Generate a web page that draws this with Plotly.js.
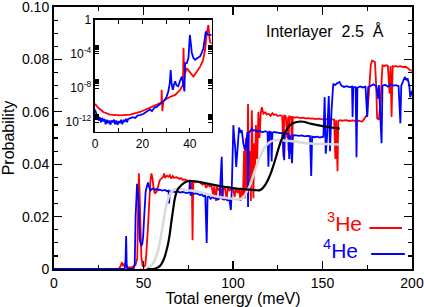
<!DOCTYPE html>
<html>
<head>
<meta charset="utf-8">
<script src="https://cdn.plot.ly/plotly-3.0.1.min.js"></script>
<style>html,body{margin:0;padding:0;background:#fff;}#chart{width:424px;height:307px;}</style>
</head>
<body>
<div id="chart"></div>
<script>
// ---------- main panel data (energy in meV, probability) ----------
const he3X = [0,36,37,38,38.6,39,40,42,44,45.5,46.5,47,47.4,47.8,48.3,48.8,49.5,50.3,51,51.6,52.5,53.2,53.8,54.4,55,55.6,56.3,57.3,58.2,59.1,60,61,61.5,62,63,64,64.7,65.5,66.3,67,68.5,70,71,72,73,74,75,76,77,77.4,77.8,79,80,81.5,83,84,85,86,87,88,89,89.5,90.5,91,92,93,94,94.5,95.5,96.5,97,98,99,100,101,101.5,102.5,103.5,104.2,104.8,105.6,106.2,106.6,107.2,107.8,108.4,108.8,109.5,110,110.5,111,111.4,111.8,112.3,112.8,113.5,114.2,114.8,115.5,116.1,117,118,118.9,120,121,122,123,124,125,126.3,127.5,128.2,128.6,129.5,130.3,130.8,131,131.4,132.5,133,133.4,134.5,136,137.5,139,140.5,142,143.1,144.5,146,148,150,152,154,155.5,156.5,157.2,157.6,158.4,158.8,159.6,161,163,165,167,169,170.5,172,173.5,175,176,177,177.7,178.5,179.3,180,180.5,181.5,182.5,183.5,184.5,185.5,186.5,187.5,188,188.6,189.2,190,191,192,193.5,195,196.5,198,199,200];
const he3Y = [0,0,0.0008,0.0025,0.001,0.002,0.001,0.0005,0.0008,0.0015,0.004,0.02,0.0365,0.03,0.016,0.0047,0.0012,0.0009,0.0015,0.006,0.016,0.026,0.033,0.0365,0.035,0.031,0.0288,0.0295,0.032,0.0339,0.0345,0.0352,0.0365,0.0348,0.0356,0.0352,0.0358,0.0345,0.0355,0.0348,0.035,0.0344,0.0347,0.034,0.0342,0.0339,0.0336,0.0338,0.0334,0.011,0.0334,0.0331,0.0333,0.033,0.0322,0.0327,0.031,0.0322,0.0315,0.0318,0.028,0.0316,0.026,0.0314,0.03,0.0312,0.0265,0.0305,0.031,0.0262,0.0308,0.03,0.0307,0.0305,0.0275,0.031,0.029,0.0305,0.026,0.0305,0.028,0.045,0.027,0.05,0.03,0.063,0.033,0.045,0.026,0.0606,0.035,0.027,0.048,0.038,0.055,0.042,0.06,0.05,0.0595,0.0618,0.0593,0.0598,0.059,0.0592,0.0585,0.0595,0.0588,0.059,0.0584,0.0587,0.0583,0.0428,0.0585,0.0583,0.05,0.058,0.045,0.0582,0.058,0.0413,0.058,0.0578,0.058,0.0576,0.0578,0.0575,0.0576,0.0574,0.0575,0.0572,0.0574,0.0571,0.0572,0.057,0.0571,0.057,0.042,0.0568,0.0373,0.0565,0.0568,0.0566,0.0568,0.0565,0.0567,0.0564,0.0566,0.0562,0.0575,0.059,0.068,0.078,0.0796,0.0792,0.079,0.07,0.0575,0.057,0.065,0.0777,0.0775,0.0778,0.0776,0.067,0.0775,0.058,0.0774,0.0773,0.0775,0.0772,0.0774,0.0771,0.0772,0.0765,0.0758,0.0757];

const he4X = [0,39.5,40,40.3,40.6,41,44.5,45.1,45.6,46,46.4,46.8,47.2,47.9,48.4,48.8,49.3,49.8,50.3,50.7,51.2,51.6,52.1,52.5,53,53.9,54.6,55.4,56.5,57.5,58.5,59.1,60.5,62,63,64,64.3,64.7,66,67.5,69,70.5,72,74,75.5,75.9,76.3,76.8,78,79.5,81.5,82.5,83.5,84.5,85.3,85.8,86.5,87.5,88.5,89.5,90.5,91.5,92.5,93.7,94.2,95,96,97,98,98.8,99.3,99.8,100.2,100.7,101.2,101.8,102.5,103.4,104.2,104.9,105.8,106.7,107.5,108.1,108.4,108.8,109.5,110.5,111.5,112.5,113.5,115,116.5,118,119.3,119.8,120.3,121.2,121.6,122,123,124.5,126.3,127.5,128.6,129,130,131,131.4,131.8,133,133.4,134.5,135.7,137,138.5,140,141.5,143,143.7,144.2,145.5,147,148.5,149.5,150.5,151.2,151.8,152.5,153.5,154.2,155,156,157,158,159.5,160.5,162,163.5,165,166.5,166.8,167.2,168.5,169,169.5,171,172.5,174,175,175.5,177,178.5,180,181,181.5,183,183.5,185,186.5,188,189.5,191,192.5,193.5,194,195,196,197,197.5,198.5,199,200];
const he4Y = [0,0,0.004,0.0126,0.002,0,0,0.002,0.02,0.03,0.0325,0.03,0.026,0.011,0.0092,0.0088,0.0095,0.0123,0.019,0.025,0.0295,0.0307,0.032,0.033,0.0315,0.030,0.0305,0.0307,0.0302,0.0306,0.0301,0.0303,0.0299,0.0302,0.0297,0.0299,0.025,0.0296,0.0297,0.0294,0.0296,0.0292,0.0294,0.029,0.0292,0.0336,0.028,0.029,0.0287,0.0289,0.0282,0.0285,0.0278,0.028,0.0099,0.0275,0.0278,0.0268,0.0275,0.027,0.0272,0.0265,0.027,0.0428,0.027,0.0265,0.0268,0.0262,0.0266,0.0225,0.03,0.045,0.0549,0.05,0.0466,0.039,0.045,0.054,0.052,0.053,0.0479,0.0453,0.049,0.0523,0.0237,0.052,0.0525,0.0536,0.0528,0.053,0.0525,0.0527,0.0522,0.0526,0.0522,0.039,0.0524,0.0522,0.041,0.052,0.0523,0.052,0.0519,0.052,0.0415,0.0518,0.0516,0.0515,0.042,0.0512,0.0404,0.051,0.0511,0.051,0.0508,0.051,0.0506,0.0508,0.0507,0.0355,0.0505,0.0503,0.0505,0.0502,0.0504,0.0505,0.0656,0.044,0.05,0.066,0.045,0.06,0.0707,0.0702,0.0708,0.0714,0.07,0.0695,0.0698,0.0694,0.0696,0.058,0.0695,0.0694,0.0427,0.0692,0.0697,0.0693,0.0696,0.058,0.0694,0.07,0.0705,0.0698,0.065,0.0702,0.048,0.07,0.0703,0.0696,0.0705,0.07,0.0702,0.0698,0.0556,0.07,0.0715,0.0733,0.072,0.0728,0.07,0.0656,0.068];

const blackX = [52,55.4,57,59.1,60.5,61.9,63,63.8,64.8,65.7,66.6,67.5,68.4,69.4,70.8,72.2,73.5,75,77,78.7,81.5,85,90,95,98.3,102,105.5,109.5,112.5,115,116.5,117.9,119.3,120.7,122.1,123.5,124.9,126.3,127.7,129.1,130.5,131.9,133.8,135.7,137.5,139.4,143.1,148,153,159.6];
const blackY = [0,0,0.0003,0.0011,0.0025,0.0047,0.0075,0.0098,0.014,0.0187,0.023,0.0269,0.0292,0.0307,0.0318,0.0326,0.0332,0.0335,0.0336,0.0335,0.0332,0.0327,0.032,0.0314,0.0311,0.0307,0.0305,0.0303,0.0301,0.0301,0.0308,0.032,0.0337,0.0358,0.0385,0.0415,0.0448,0.0479,0.0503,0.0523,0.0538,0.0549,0.0557,0.0561,0.0563,0.0562,0.0555,0.0548,0.0542,0.0536];

const grayX = [48,51.6,53.5,55.4,56.8,58.2,59.1,60,61,61.9,62.8,63.8,64.7,65.7,67,68.5,71,74,78,81.5,86,90,95,98.3,101,103.9,105.5,106.7,108,109.5,110.9,112.3,113.6,115,116.5,117.9,119.3,120.7,122.5,124.5,128,131.9,137,143.1,150,159.6];
const grayY = [0,0,0.001,0.0022,0.0045,0.0072,0.0102,0.0136,0.0175,0.0212,0.0245,0.0269,0.0285,0.0295,0.0302,0.0305,0.0305,0.0301,0.0298,0.0294,0.0285,0.0278,0.0272,0.0269,0.0267,0.0266,0.0272,0.0282,0.03,0.032,0.0348,0.0377,0.0403,0.0428,0.0449,0.0466,0.0477,0.0485,0.049,0.0492,0.0491,0.0489,0.0484,0.0479,0.0477,0.0475];

// ---------- inset data (log scale) ----------
const in3X = [0,1.4,3.5,6.3,10.5,14.8,19,23.2,27.4,28,28.1,28.4,28.8,29.5,31.6,33.8,35.9,36.6,37.1,37.3,37.6,38.7,40,41.5,42.9,44.3,45.5,46.4,47.1,47.8,48.2,48.5,49.2];
const in3Y = [1.4e-10,5e-11,1.6e-11,8e-12,6.3e-12,8e-12,1.6e-11,5e-11,1.8e-10,2e-10,6.3e-9,2e-11,2.5e-10,4.4e-10,9e-10,1.6e-9,6.3e-9,1.6e-8,2.5e-8,5e-4,3e-7,2e-6,8e-7,2.2e-7,8e-7,3.2e-6,1.6e-5,2.8e-4,2.5e-2,0.23,1e-2,2.5e-3,1.6e-3];

const in4X = [0,1,1.5,2,2.5,3,3.5,4,4.5,5,5.5,6,6.5,7,7.5,8,8.5,9,9.5,10,10.5,11,11.5,12,12.5,13,13.5,14,14.8,16,17,18,19,20.5,22,23.2,24,25,26,27.4,28.5,29.5,30.2,30.9,31.5,31.9,32.3,32.8,33.3,33.8,34.4,35.1,35.8,36.6,37.2,37.7,38,38.7,39.4,40,40.5,40.8,41.5,42.2,43.2,44.3,45,45.7,46.7,47.2,47.6,48.5,49.2];
const in4Y = [3.2e-11,5e-12,1.6e-12,4e-12,1e-12,3.2e-12,1.3e-12,2.5e-12,6e-13,2e-12,8e-13,1.6e-12,5e-13,1.6e-12,1e-12,2e-12,6e-13,1.6e-12,5e-13,1.3e-12,8e-13,2e-12,6e-13,1.6e-12,1.3e-12,2.5e-12,1e-12,2.5e-12,3.2e-12,4e-12,3.2e-12,6.3e-12,7e-12,1e-11,2e-11,3.2e-11,2e-11,5e-11,6.3e-11,1.3e-10,2.5e-10,4.4e-10,1e-9,4e-9,3.2e-8,1.3e-6,3.2e-8,6.3e-9,2.5e-8,6.3e-8,2e-8,1.6e-8,6.3e-8,2.2e-7,3.2e-8,4e-9,8e-6,8e-6,3.2e-5,1.6e-2,1e-3,1.3e-4,3.2e-5,2e-5,3.2e-5,5e-5,1.3e-4,4.5e-4,4e-2,2.5e-2,1.6e-2,1.6e-2,1.6e-2];

const xTicks = [0,50,100,150,200];
const yTickVals = [0,0.02,0.04,0.06,0.08,0.1];
const yTickText = ["0","0.02","0.04","0.06","0.08","0.10"];
const insetXTicks = [0,20,40];
const insetYTickVals = [1,1e-4,1e-8,1e-12];
const insetYTickText = ["1","10<sup>-4</sup>","10<sup>-8</sup>","10<sup>-12</sup>"];
const insetMinorVals = [2e-4,3e-4,4e-4,5e-4,6e-4,7e-4,8e-4,9e-4,2e-8,3e-8,4e-8,5e-8,6e-8,7e-8,8e-8,9e-8,2e-12,3e-12,4e-12,5e-12,6e-12,7e-12,8e-12,9e-12];

const FONT = "Liberation Sans, Arial, Helvetica, sans-serif";

const traces = [
  {x: he3X, y: he3Y, type:'scatter', mode:'lines', line:{color:'#ff0000', width:1.8}, xaxis:'x', yaxis:'y', hoverinfo:'skip'},
  {x: he4X, y: he4Y, type:'scatter', mode:'lines', line:{color:'#0000ff', width:1.8}, xaxis:'x', yaxis:'y', hoverinfo:'skip'},
  {x: grayX, y: grayY, type:'scatter', mode:'lines', line:{color:'#d9d9d9', width:2.5, shape:'spline'}, xaxis:'x', yaxis:'y', hoverinfo:'skip'},
  {x: blackX, y: blackY, type:'scatter', mode:'lines', line:{color:'#000000', width:2.2, shape:'spline'}, xaxis:'x', yaxis:'y', hoverinfo:'skip'},
  {x: in3X, y: in3Y, type:'scatter', mode:'lines', line:{color:'#ff0000', width:1.8}, xaxis:'x2', yaxis:'y2', hoverinfo:'skip'},
  {x: in4X, y: in4Y, type:'scatter', mode:'lines', line:{color:'#0000ff', width:1.8}, xaxis:'x2', yaxis:'y2', hoverinfo:'skip'}
];

const axisCommon = {showgrid:false, zeroline:false, showline:true, linecolor:'#000', mirror:'allticks', ticks:'inside', tickcolor:'#000', ticklabeloverflow:'allow'};

const layout = {
  width:424, height:307,
  margin:{l:54, r:12, t:7, b:38},
  paper_bgcolor:'#fff', plot_bgcolor:'#fff',
  showlegend:false,
  font:{family:FONT, color:'#000', size:14},
  xaxis: Object.assign({}, axisCommon, {
    domain:[0,1], anchor:'y', range:[0,200], tickmode:'array', tickvals:xTicks,
    ticklen:8, tickwidth:1.2, linewidth:2,
    minor:{dtick:25, tick0:0, ticks:'inside', ticklen:4, tickwidth:1.2, tickcolor:'#000', showgrid:false},
    tickfont:{size:14, family:FONT},
    title:{text:'Total energy (meV)', font:{size:16, family:FONT}, standoff:4}
  }),
  yaxis: Object.assign({}, axisCommon, {
    domain:[0,1], anchor:'x', range:[0,0.10001], tickmode:'array', tickvals:yTickVals, ticktext:yTickText,
    ticklen:8, tickwidth:1.2, linewidth:2,
    minor:{dtick:0.005, tick0:0, ticks:'inside', ticklen:4, tickwidth:1.2, tickcolor:'#000', showgrid:false},
    tickfont:{size:14, family:FONT},
    title:{text:'Probability', font:{size:16, family:FONT}, standoff:6}
  }),
  xaxis2: Object.assign({}, axisCommon, {
    domain:[0.1145,0.4405], anchor:'y2', range:[0,49.2], tickmode:'array', tickvals:insetXTicks,
    ticklen:4, tickwidth:1, linewidth:1.5,
    minor:{dtick:10, tick0:0, ticks:'inside', ticklen:4, tickwidth:1, tickcolor:'#000', showgrid:false},
    tickfont:{size:12, family:FONT}
  }),
  yaxis2: Object.assign({}, axisCommon, {
    domain:[0.524,0.952], anchor:'x2', type:'log', range:[-13.1,0.001], tickmode:'array', tickvals:insetYTickVals, ticktext:insetYTickText,
    ticklen:4, tickwidth:1, linewidth:1.5,
    minor:{tickmode:'array', tickvals:insetMinorVals, ticks:'inside', ticklen:4, tickwidth:1, tickcolor:'#000', showgrid:false},
    tickfont:{size:12, family:FONT}
  }),
  annotations:[
    {text:'Interlayer\u00a0\u00a02.5\u00a0\u00a0Å', xref:'paper', yref:'paper', x:0.7556, y:0.908, xanchor:'center', yanchor:'middle', showarrow:false, font:{size:16, family:FONT, color:'#000'}},
    {text:'<sup>3</sup>He', xref:'paper', yref:'paper', x:0.865, y:0.18, xanchor:'right', yanchor:'middle', showarrow:false, font:{size:21, family:FONT, color:'#ff0000'}},
    {text:'<sup>4</sup>He', xref:'paper', yref:'paper', x:0.856, y:0.075, xanchor:'right', yanchor:'middle', showarrow:false, font:{size:21, family:FONT, color:'#0000ff'}}
  ],
  shapes:[
    {type:'line', xref:'paper', yref:'paper', x0:0.881, x1:0.972, y0:0.1565, y1:0.1565, line:{color:'#ff0000', width:1.8}},
    {type:'line', xref:'paper', yref:'paper', x0:0.886, x1:0.980, y0:0.0573, y1:0.0573, line:{color:'#0000ff', width:1.8}}
  ]
};

Plotly.newPlot('chart', traces, layout, {displayModeBar:false, staticPlot:true});
</script>
</body>
</html>
